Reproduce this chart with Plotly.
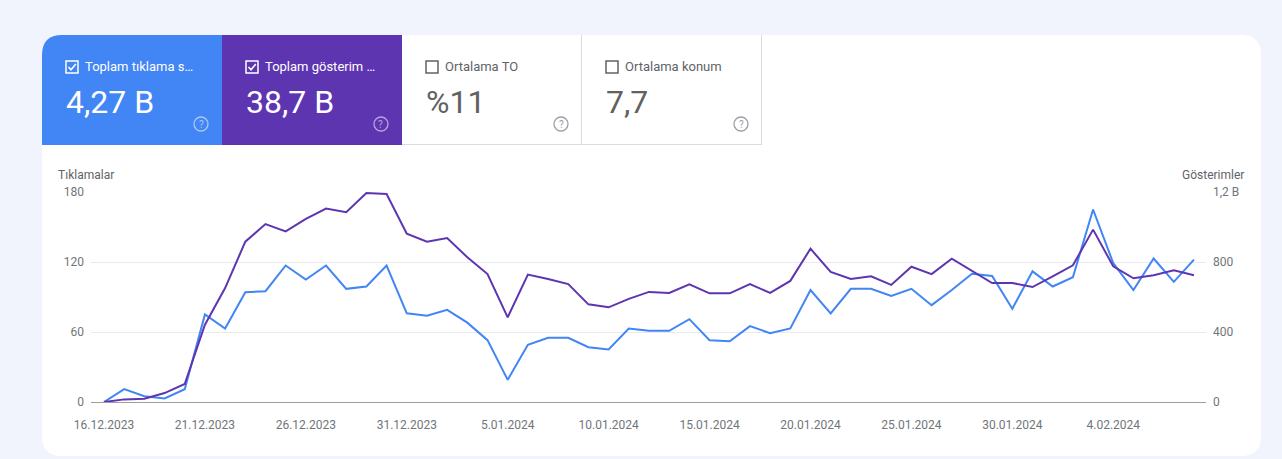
import pandas as pd
import plotly.graph_objects as go

# daily values, 16.12.2023 - 8.02.2024
dates = pd.date_range("2023-12-16", "2024-02-08", freq="D")

clicks = [0, 11, 5, 3, 11, 75, 63, 94, 95, 117, 105, 117, 97, 99, 117, 76, 74, 79, 68, 53,
          19, 49, 55, 55, 47, 45, 63, 61, 61, 71, 53, 52, 65, 59, 63, 96, 76, 97, 97, 91,
          97, 83, 96, 110, 108, 80, 112, 99, 107, 165, 119, 96, 123, 103, 122]

impressions = [0, 15, 19, 51, 103, 442, 651, 916, 1017, 975, 1046, 1105, 1084, 1194, 1189,
               962, 916, 937, 827, 731, 484, 728, 703, 674, 558, 541, 589, 629, 623, 672,
               621, 621, 674, 623, 692, 876, 743, 703, 718, 669, 773, 731, 819, 750, 680,
               680, 657, 718, 781, 985, 775, 707, 724, 752, 724]

x_tick_dates = ["2023-12-16", "2023-12-21", "2023-12-26", "2023-12-31", "2024-01-05",
                "2024-01-10", "2024-01-15", "2024-01-20", "2024-01-25", "2024-01-30",
                "2024-02-04"]
x_tick_labels = ["16.12.2023", "21.12.2023", "26.12.2023", "31.12.2023", "5.01.2024",
                 "10.01.2024", "15.01.2024", "20.01.2024", "25.01.2024", "30.01.2024",
                 "4.02.2024"]

y_left_ticks = [0, 60, 120, 180]
y_right_ticks = [0, 400, 800, 1200]
y_right_labels = ["0", "400", "800", "1,2 B"]

# summary cards
card_titles = ["Toplam tıklama s…", "Toplam gösterim …", "Ortalama TO", "Ortalama konum"]
card_values = ["4,27 B", "38,7 B", "%11", "7,7"]
card_checked = [True, True, False, False]

BLUE = "#4285f4"
PURPLE = "#5e35b1"
GREY_TXT = "#5f6368"
TICK_TXT = "#70757a"

W, H = 1282, 459
L, R, T, B = 91, 1206, 192, 402


def px(x):
    return (x - L) / (R - L)


def py(y):
    return (B - y) / (B - T)


def pt(x, y):
    return f"{px(x):.5f},{py(y):.5f}"


fig = go.Figure()

fig.add_trace(go.Scatter(x=dates, y=impressions, yaxis="y2", mode="lines",
                         line=dict(color=PURPLE, width=2), name="Gösterimler"))
fig.add_trace(go.Scatter(x=dates, y=clicks, mode="lines",
                         line=dict(color=BLUE, width=2), name="Tıklamalar"))

shapes = []
annotations = []

# white card with rounded corners
x0, y0, x1, y1, r = 42, 35, 1261, 456, 20
card_path = (f"M{pt(x0 + r, y0)} L{pt(x1 - r, y0)} Q{pt(x1, y0)} {pt(x1, y0 + r)} "
             f"L{pt(x1, y1 - r)} Q{pt(x1, y1)} {pt(x1 - r, y1)} L{pt(x0 + r, y1)} "
             f"Q{pt(x0, y1)} {pt(x0, y1 - r)} L{pt(x0, y0 + r)} Q{pt(x0, y0)} {pt(x0 + r, y0)} Z")
shapes.append(dict(type="path", xref="paper", yref="paper", path=card_path,
                   fillcolor="white", line=dict(width=0), layer="below"))

# tiles
tile_w, tile_top, tile_bot = 180, 35, 145
for i, (title, value, checked) in enumerate(zip(card_titles, card_values, card_checked)):
    tx = 42 + i * tile_w
    if i == 0:
        path = (f"M{pt(tx + r, tile_top)} L{pt(tx + tile_w, tile_top)} "
                f"L{pt(tx + tile_w, tile_bot)} L{pt(tx, tile_bot)} L{pt(tx, tile_top + r)} "
                f"Q{pt(tx, tile_top)} {pt(tx + r, tile_top)} Z")
        shapes.append(dict(type="path", xref="paper", yref="paper", path=path,
                           fillcolor=BLUE, line=dict(width=0), layer="below"))
    elif i == 1:
        shapes.append(dict(type="rect", xref="paper", yref="paper",
                           x0=px(tx), x1=px(tx + tile_w), y0=py(tile_bot), y1=py(tile_top),
                           fillcolor=PURPLE, line=dict(width=0), layer="below"))
    else:
        # right and bottom borders
        shapes.append(dict(type="line", xref="paper", yref="paper",
                           x0=px(tx + tile_w - 0.5), x1=px(tx + tile_w - 0.5),
                           y0=py(tile_top), y1=py(tile_bot),
                           line=dict(color="#dadce0", width=1), layer="below"))
        shapes.append(dict(type="line", xref="paper", yref="paper",
                           x0=px(tx), x1=px(tx + tile_w), y0=py(tile_bot - 0.5),
                           y1=py(tile_bot - 0.5),
                           line=dict(color="#dadce0", width=1), layer="below"))

    fg = "white" if checked else GREY_TXT
    # checkbox
    cx = tx + 24
    shapes.append(dict(type="rect", xref="paper", yref="paper",
                       x0=px(cx), x1=px(cx + 12), y0=py(73), y1=py(61),
                       line=dict(color=fg, width=1.5), fillcolor="rgba(0,0,0,0)"))
    if checked:
        shapes.append(dict(type="path", xref="paper", yref="paper",
                           path=f"M{pt(cx + 2.5, 67)} L{pt(cx + 5, 69.8)} L{pt(cx + 9.8, 64)}",
                           line=dict(color=fg, width=1.6)))
    annotations.append(dict(x=px(cx + 17), y=py(67), xref="paper", yref="paper",
                            text=title, showarrow=False, xanchor="left", yanchor="middle",
                            font=dict(size=13, color=fg)))
    annotations.append(dict(x=px(tx + 22), y=py(102.5), xref="paper", yref="paper",
                            text=value, showarrow=False, xanchor="left", yanchor="middle",
                            font=dict(size=32, color="white" if checked else "#616161")))
    # help icon
    hx, hy = tx + 159, 124
    icon_col = "rgba(255,255,255,0.55)" if checked else "#9aa0a6"
    shapes.append(dict(type="circle", xref="paper", yref="paper",
                       x0=px(hx - 7), x1=px(hx + 7), y0=py(hy + 7), y1=py(hy - 7),
                       line=dict(color=icon_col, width=1.3)))
    annotations.append(dict(x=px(hx), y=py(hy), xref="paper", yref="paper", text="?",
                            showarrow=False, xanchor="center", yanchor="middle",
                            font=dict(size=10, color=icon_col)))

# axis titles
annotations.append(dict(x=px(56), y=py(175), xref="paper", yref="paper", text="Tıklamalar",
                        showarrow=False, xanchor="left", yanchor="middle",
                        font=dict(size=12, color=GREY_TXT)))
annotations.append(dict(x=px(1246), y=py(175), xref="paper", yref="paper", text="Gösterimler",
                        showarrow=False, xanchor="right", yanchor="middle",
                        font=dict(size=12, color=GREY_TXT)))

day = pd.Timedelta(days=1)
x_start = dates[0] - day * (13 / 20.185)
x_end = dates[-1] + day * (12 / 20.185)

fig.update_layout(
    width=W, height=H,
    margin=dict(l=L, r=W - R, t=T, b=H - B, pad=0),
    paper_bgcolor="#f1f4fc",
    plot_bgcolor="white",
    font=dict(family="Roboto, Arial, sans-serif", size=12, color=TICK_TXT),
    showlegend=False,
    hovermode=False,
    shapes=shapes,
    annotations=annotations,
    xaxis=dict(range=[x_start, x_end], tickvals=x_tick_dates, ticktext=x_tick_labels,
               showgrid=False, zeroline=False, showline=True, linecolor="#9e9e9e",
               linewidth=1, ticks="", ticklabelstandoff=12,
               tickfont=dict(size=12, color=TICK_TXT)),
    yaxis=dict(range=[0, 180], tickvals=y_left_ticks, showgrid=True, gridcolor="#e8eaed",
               zeroline=False, ticks="", ticklabelstandoff=6,
               tickfont=dict(size=12, color=TICK_TXT)),
    yaxis2=dict(range=[0, 1200], tickvals=y_right_ticks, ticktext=y_right_labels,
                overlaying="y", side="right", showgrid=False, zeroline=False, ticks="",
                ticklabelstandoff=6, tickfont=dict(size=12, color=TICK_TXT)),
)

# drop the default page margin so the figure fills the window
fig.write_html("out.html", config={"displayModeBar": False},
               post_script="document.body.style.margin='0';document.body.style.overflow='hidden';")
